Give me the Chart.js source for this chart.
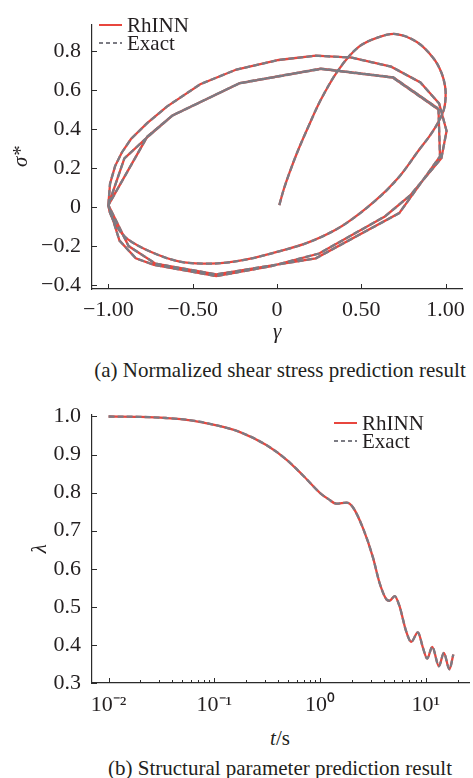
<!DOCTYPE html>
<html>
<head>
<meta charset="utf-8">
<script src="https://cdn.jsdelivr.net/npm/chart.js@4.4.1/dist/chart.umd.min.js"></script>
<style>
  body { margin: 0; background: #fff; }
  #page { position: relative; width: 473px; height: 778px; font-family: "Liberation Serif", serif; color: #231f20; }
  canvas { position: absolute; left: 0; }
  .cap { position: absolute; left: 0; width: 560px; text-align: center; font-size: 21px; line-height: 24px; white-space: nowrap; }
</style>
</head>
<body>
<div id="page">
  <canvas id="shear" width="473" height="345" style="top:0"></canvas>
  <div class="cap" style="top:358px">(a) Normalized shear stress prediction result</div>
  <canvas id="lambda" width="473" height="335" style="top:390px"></canvas>
  <div class="cap" style="top:726px"><i>t</i>/s</div>
  <div class="cap" style="top:756px">(b) Structural parameter prediction result</div>
</div>
<script>
// (a) first loading: overshoot arc + first return branch (dense samples)
const startGamma = [0.014, 0.04, 0.076, 0.12, 0.18, 0.26, 0.366, 0.483, 0.60, 0.706, 0.83, 0.928, 0.975, 0.997, 1.0, 0.99, 0.96, 0.91, 0.84, 0.72, 0.58, 0.386, 0.19, 0.0, -0.165, -0.3, -0.416, -0.576, -0.746, -0.886, -0.95, -0.99, -1.0];
const startSigma = [0.01, 0.09, 0.18, 0.28, 0.40, 0.55, 0.705, 0.82, 0.87, 0.887, 0.846, 0.763, 0.69, 0.62, 0.56, 0.50, 0.44, 0.37, 0.29, 0.15, 0.03, -0.097, -0.18, -0.23, -0.266, -0.285, -0.29, -0.28, -0.23, -0.164, -0.1, -0.03, 0.01];
// (a) later cycles (coarse samples)
const cycleGamma = [-1.0, -0.99, -0.96, -0.92, -0.866, -0.77, -0.653, -0.455, -0.24, 0.01, 0.23, 0.444, 0.677, 0.851, 0.962, 1.006, 0.975,
  0.79, 0.64, 0.25, -0.04, -0.36, -0.73, -0.837, -0.934, -1.0,
  -0.905, -0.77, -0.622, -0.224, 0.26, 0.687, 0.958, 0.967,
  0.725, 0.23, -0.36, -0.72, -0.88, -1.0,
  -0.77, -0.62, -0.22, 0.26, 0.69, 0.955];
const cycleSigma = [0.01, 0.12, 0.21, 0.28, 0.349, 0.43, 0.515, 0.63, 0.705, 0.754, 0.776, 0.766, 0.72, 0.639, 0.531, 0.39, 0.25,
  0.06, -0.048, -0.238, -0.304, -0.354, -0.296, -0.263, -0.172, 0.01,
  0.25, 0.357, 0.468, 0.634, 0.708, 0.664, 0.5, 0.26,
  -0.031, -0.263, -0.345, -0.29, -0.2, 0.01,
  0.36, 0.47, 0.636, 0.71, 0.665, 0.505];
const gammaTicks = [-1, -0.5, 0, 0.5, 1];
const gammaTickLabels = ['\u22121.00', '\u22120.50', '0', '0.50', '1.00'];
const sigmaTicks = [-0.4, -0.2, 0, 0.2, 0.4, 0.6, 0.8];
const sigmaTickLabels = ['\u22120.4', '\u22120.2', '0', '0.2', '0.4', '0.6', '0.8'];

// (b) structural parameter
const tValues = [0.01, 0.02, 0.035, 0.06, 0.1, 0.175, 0.31, 0.48, 0.69, 1.0, 1.2, 1.43, 1.78, 2.05, 2.55, 3.16, 3.66, 4.23, 4.54, 5.07, 5.62, 6.53, 7.28, 8.41, 9.38, 10.3, 11.5, 13.3, 14.8, 16.7, 18.2];
const lambdaValues = [1.0, 0.999, 0.996, 0.99, 0.978, 0.959, 0.925, 0.887, 0.845, 0.799, 0.783, 0.771, 0.774, 0.761, 0.706, 0.63, 0.562, 0.52, 0.516, 0.528, 0.503, 0.435, 0.408, 0.433, 0.393, 0.364, 0.395, 0.344, 0.379, 0.336, 0.375];
const lambdaTicks = [0.3, 0.4, 0.5, 0.6, 0.7, 0.8, 0.9, 1.0];
const lambdaTickLabels = ['0.3', '0.4', '0.5', '0.6', '0.7', '0.8', '0.9', '1.0'];
const timeTickLabels = ['10\u207B\u00B2', '10\u207B\u00B9', '10\u2070', '10\u00B9'];

const seriesNames = ['RhINN', 'Exact'];
const RED = '#e8463e';
const GREY = '#7b7b83';
const INK = '#231f20';
const AXIS = '#2b2b2b';
const FONT = '"Liberation Serif", "Times New Roman", serif';

const pts = (xs, ys) => xs.map((x, i) => ({ x: x, y: ys[i] }));

// ticks drawn inward
const innerTicks = {
  id: 'innerTicks',
  afterDraw(chart) {
    const { ctx, chartArea, scales } = chart;
    ctx.save();
    ctx.strokeStyle = AXIS;
    ctx.lineWidth = 1;
    ctx.beginPath();
    scales.x.ticks.forEach(t => {
      const px = Math.round(scales.x.getPixelForValue(t.value)) + 0.5;
      const len = t.minor ? 3 : 5;
      ctx.moveTo(px, chartArea.bottom);
      ctx.lineTo(px, chartArea.bottom - len);
    });
    scales.y.ticks.forEach(t => {
      const py = Math.round(scales.y.getPixelForValue(t.value)) + 0.5;
      ctx.moveTo(chartArea.left, py);
      ctx.lineTo(chartArea.left + 5, py);
    });
    ctx.stroke();
    ctx.restore();
  }
};

// legend drawn inside the plot
const lineLegend = {
  id: 'lineLegend',
  afterDraw(chart, args, o) {
    const ctx = chart.ctx;
    ctx.save();
    ctx.font = '21px ' + FONT;
    ctx.textBaseline = 'middle';
    ctx.fillStyle = INK;
    seriesNames.forEach((name, i) => {
      const y = o.y + i * 18;
      ctx.beginPath();
      ctx.lineWidth = 2;
      ctx.strokeStyle = i === 0 ? RED : GREY;
      ctx.setLineDash(i === 0 ? [] : [4, 3]);
      ctx.moveTo(o.x, y);
      ctx.lineTo(o.x + 23, y);
      ctx.stroke();
      ctx.setLineDash([]);
      ctx.fillText(name, o.x + 28, y + 1);
    });
    ctx.restore();
  }
};

const tickFont = { family: FONT, size: 22 };
const baseGrid = { display: true, drawOnChartArea: false, drawTicks: false };
const baseBorder = { display: true, color: AXIS, width: 1.2 };

function lineSet(label, data, color, dash, tension, order) {
  return {
    label: label, data: data, showLine: true, borderColor: color, backgroundColor: color,
    borderWidth: 2.3, borderDash: dash, pointRadius: 0, tension: tension, order: order
  };
}

new Chart(document.getElementById('shear'), {
  type: 'scatter',
  data: {
    datasets: [
      lineSet(seriesNames[0], pts(startGamma, startSigma), RED, [], 0.35, 1),
      lineSet(seriesNames[0], pts(cycleGamma, cycleSigma), RED, [], 0, 1),
      lineSet(seriesNames[1], pts(startGamma, startSigma), GREY, [6, 3], 0.35, 0),
      lineSet(seriesNames[1], pts(cycleGamma, cycleSigma), GREY, [6, 3], 0, 0)
    ]
  },
  options: {
    responsive: false,
    animation: false,
    layout: { padding: { top: 15, right: 4, left: 0, bottom: 0 } },
    plugins: { legend: { display: false }, tooltip: { enabled: false }, lineLegend: { x: 99, y: 25 } },
    scales: {
      x: {
        type: 'linear', min: -1.097, max: 1.1,
        afterBuildTicks: s => { s.ticks = gammaTicks.map(v => ({ value: v })); },
        afterFit: s => { s.height = 56; },
        ticks: { autoSkip: false, maxRotation: 0, padding: 8, color: INK, font: tickFont, callback: (v, i) => gammaTickLabels[i] },
        grid: baseGrid, border: baseBorder,
        title: { display: true, text: '\u03B3', color: INK, font: { family: FONT, size: 21, style: 'italic' }, padding: { top: 0, bottom: 0 } }
      },
      y: {
        type: 'linear', min: -0.42, max: 0.9375,
        afterBuildTicks: s => { s.ticks = sigmaTicks.map(v => ({ value: v })); },
        afterFit: s => { s.width = 92; },
        ticks: { autoSkip: false, padding: 11, color: INK, font: tickFont, callback: (v, i) => sigmaTickLabels[i] },
        grid: baseGrid, border: baseBorder,
        title: { display: true, text: '\u03C3*', color: INK, font: { family: FONT, size: 21, style: 'italic' }, padding: { top: 9, bottom: 0 } }
      }
    }
  },
  plugins: [innerTicks, lineLegend]
});

new Chart(document.getElementById('lambda'), {
  type: 'scatter',
  data: {
    datasets: [
      Object.assign(lineSet(seriesNames[0], pts(tValues, lambdaValues), RED, [], 0, 1), { cubicInterpolationMode: 'monotone' }),
      Object.assign(lineSet(seriesNames[1], pts(tValues, lambdaValues), GREY, [6, 3], 0, 0), { cubicInterpolationMode: 'monotone' })
    ]
  },
  options: {
    responsive: false,
    animation: false,
    layout: { padding: { top: 15, right: 4, left: 0, bottom: 0 } },
    plugins: { legend: { display: false }, tooltip: { enabled: false }, lineLegend: { x: 334, y: 33 } },
    scales: {
      x: {
        type: 'logarithmic', min: 0.00697, max: 25.6,
        afterBuildTicks: s => {
          const list = [];
          for (let e = -2; e <= 1; e++) {
            for (let m = 1; m <= 9; m++) {
              const v = m * Math.pow(10, e);
              if (v >= s.min && v <= s.max) list.push({ value: v, minor: m !== 1 });
            }
          }
          s.ticks = list;
        },
        afterFit: s => { s.height = 42; },
        ticks: {
          autoSkip: false, maxRotation: 0, padding: 9, color: INK, font: tickFont,
          callback: (v, i, ticks) => ticks[i].minor ? '' : timeTickLabels[Math.round(Math.log10(v)) + 2]
        },
        grid: baseGrid, border: baseBorder
      },
      y: {
        type: 'linear', min: 0.3, max: 1.006,
        afterBuildTicks: s => { s.ticks = lambdaTicks.map(v => ({ value: v })); },
        afterFit: s => { s.width = 92; },
        ticks: { autoSkip: false, padding: 11, color: INK, font: tickFont, callback: (v, i) => lambdaTickLabels[i] },
        grid: baseGrid, border: baseBorder,
        title: { display: true, text: '\u03BB', color: INK, font: { family: FONT, size: 21, style: 'italic' }, padding: { top: 28, bottom: 0 } }
      }
    }
  },
  plugins: [innerTicks, lineLegend]
});
</script>
</body>
</html>
